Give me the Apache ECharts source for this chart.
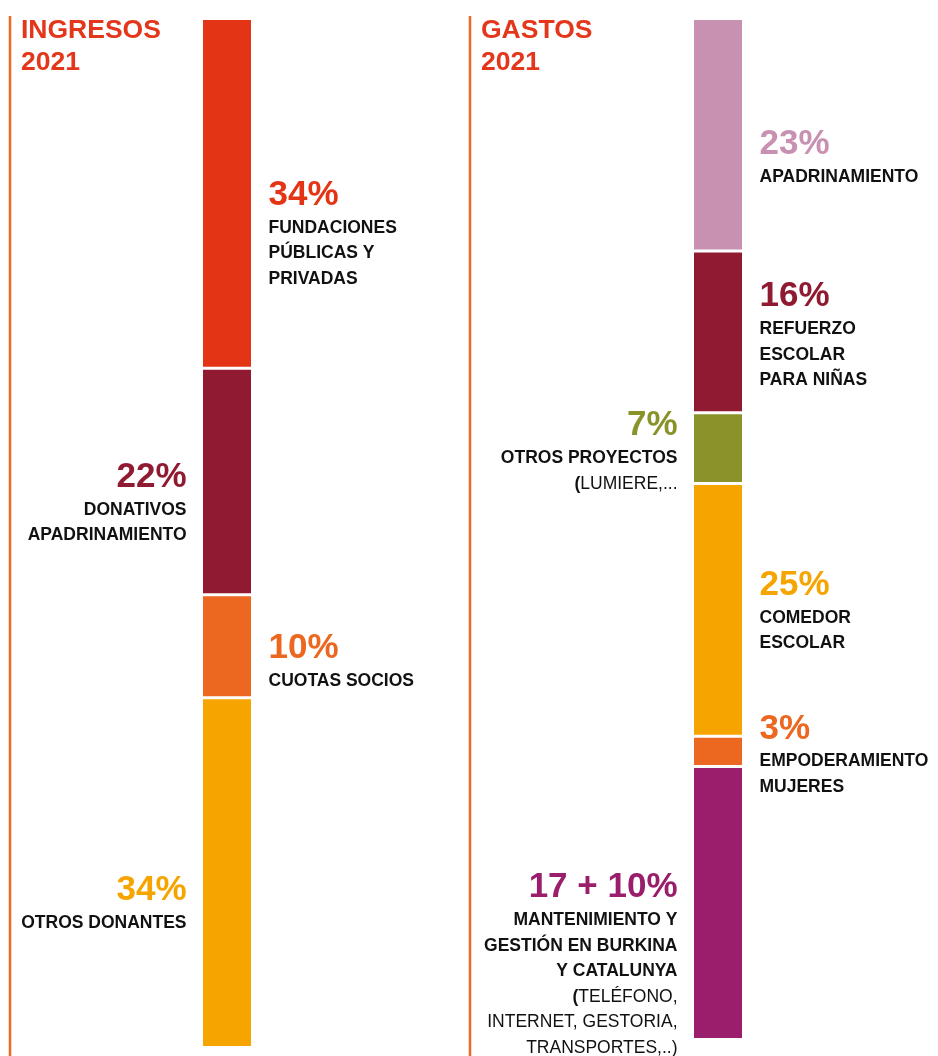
<!DOCTYPE html>
<html>
<head>
<meta charset="utf-8">
<script src="https://cdn.jsdelivr.net/npm/echarts@6/dist/echarts.min.js"></script>
<style>
html, body { margin: 0; padding: 0; background: #fff; }
#chart { width: 938px; height: 1056px; }
</style>
</head>
<body>
<div id="chart"></div>
<script>
// ingresos 2021
var ingresosValues = [34, 22, 10, 34];
var ingresosPct = ['34%', '22%', '10%', '34%'];
var ingresosText = [
    ['FUNDACIONES', 'PÚBLICAS Y', 'PRIVADAS'],
    ['DONATIVOS', 'APADRINAMIENTO'],
    ['CUOTAS SOCIOS'],
    ['OTROS DONANTES']
];
var ingresosBold = [3, 2, 1, 1];

// gastos 2021
var gastosValues = [23, 16, 7, 25, 3, 27];
var gastosPct = ['23%', '16%', '7%', '25%', '3%', '17 + 10%'];
var gastosText = [
    ['APADRINAMIENTO'],
    ['REFUERZO', 'ESCOLAR', 'PARA NIÑAS'],
    ['OTROS PROYECTOS', '(LUMIERE,...'],
    ['COMEDOR', 'ESCOLAR'],
    ['EMPODERAMIENTO', 'MUJERES'],
    ['MANTENIMIENTO Y', 'GESTIÓN EN BURKINA', 'Y CATALUNYA', '(TELÉFONO,', 'INTERNET, GESTORIA,', 'TRANSPORTES,..)']
];
var gastosBold = [1, 3, 1, 2, 2, 3];

// look
var ingresosColors = ['#e43416', '#8f1a31', '#ec6720', '#f6a500'];
var gastosColors = ['#c890b1', '#8f1a31', '#8a932a', '#f6a500', '#ec6720', '#9a1e6c'];
var ingresosSide = ['right', 'left', 'right', 'left'];
var gastosSide = ['right', 'right', 'left', 'right', 'right', 'left'];
var ingresosShift = [40, 21, 15, 31];
var gastosShift = [22, 3, 3, 1, 3, 61];

var FONT = "'Liberation Sans', Arial, sans-serif";

function labelText(pct, lines, nBold) {
    var out = ['{p|' + pct + '}'];
    for (var i = 0; i < lines.length; i++) {
        var l = lines[i];
        if (i < nBold) {
            out.push('{b|' + l + '}');
        } else if (l.charAt(0) === '(') {
            out.push('{b|(}{n|' + l.slice(1) + '}');
        } else {
            out.push('{n|' + l + '}');
        }
    }
    return out.join('\n');
}

function makeSeries(values, pct, text, bold, colors, sides, shift, idx) {
    var list = [];
    for (var i = 0; i < values.length; i++) {
        var side = sides[i];
        var al = side === 'right' ? 'left' : 'right';
        list.push({
            type: 'bar',
            stack: 'total' + idx,
            xAxisIndex: idx,
            yAxisIndex: idx,
            barWidth: '100%',
            data: [values[i]],
            itemStyle: { color: colors[i], borderColor: '#fff', borderWidth: 1.5 },
            label: {
                show: true,
                position: side,
                distance: side === 'right' ? 16 : 15,
                offset: [0, shift[i]],
                align: al,
                formatter: labelText(pct[i], text[i], bold[i]),
                rich: {
                    p: { fontFamily: FONT, fontSize: 35, fontWeight: 'bold', color: colors[i], lineHeight: 40, align: al },
                    b: { fontFamily: FONT, fontSize: 17.5, fontWeight: 'bold', color: '#111', lineHeight: 25.5, align: al },
                    n: { fontFamily: FONT, fontSize: 17.5, color: '#111', lineHeight: 25.5, align: al }
                }
            },
            emphasis: { disabled: true },
            animation: false
        });
    }
    return list;
}

var sum = function (a) { return a.reduce(function (s, v) { return s + v; }, 0); };

var chart = echarts.init(document.getElementById('chart'));
chart.setOption({
    backgroundColor: '#fff',
    animation: false,
    title: [
        { text: 'INGRESOS\n2021', left: 21, top: 15, padding: 0, textStyle: { fontFamily: FONT, fontSize: 26.5, fontWeight: 'bold', color: '#e3361b', lineHeight: 32 } },
        { text: 'GASTOS\n2021', left: 481, top: 15, padding: 0, textStyle: { fontFamily: FONT, fontSize: 26.5, fontWeight: 'bold', color: '#e3361b', lineHeight: 32 } }
    ],
    grid: [
        { left: 201.5, width: 51, top: 18.5, height: 1029 },
        { left: 692.5, width: 51, top: 18.5, height: 1021 }
    ],
    xAxis: [
        { type: 'category', data: ['ingresos'], gridIndex: 0, show: false },
        { type: 'category', data: ['gastos'], gridIndex: 1, show: false }
    ],
    yAxis: [
        { type: 'value', gridIndex: 0, min: 0, max: sum(ingresosValues), inverse: true, show: false },
        { type: 'value', gridIndex: 1, min: 0, max: sum(gastosValues), inverse: true, show: false }
    ],
    graphic: [
        { type: 'line', shape: { x1: 10, y1: 16, x2: 10, y2: 1056 }, style: { stroke: '#ee6a25', lineWidth: 2.5 } },
        { type: 'line', shape: { x1: 470, y1: 16, x2: 470, y2: 1056 }, style: { stroke: '#ee6a25', lineWidth: 2.5 } }
    ],
    series: makeSeries(ingresosValues, ingresosPct, ingresosText, ingresosBold, ingresosColors, ingresosSide, ingresosShift, 0)
        .concat(makeSeries(gastosValues, gastosPct, gastosText, gastosBold, gastosColors, gastosSide, gastosShift, 1))
});
</script>
</body>
</html>
